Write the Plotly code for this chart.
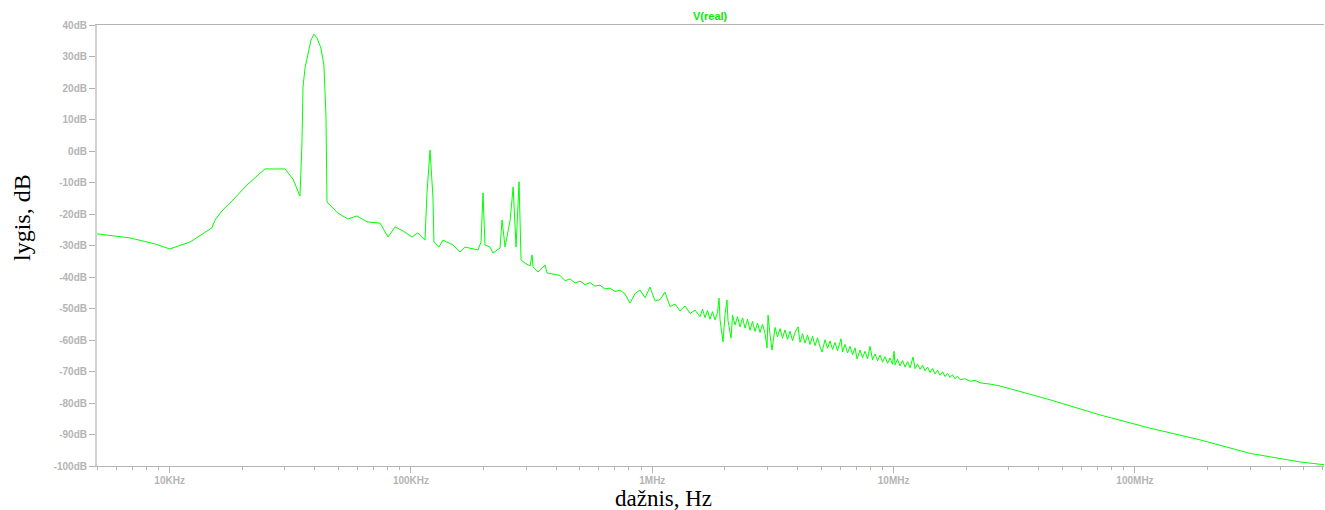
import plotly.graph_objects as go

# ---- data (frequency in Hz, level in dB) ----
freq_low = [5000, 6850, 8690, 10000, 12140, 14970, 15420, 16480, 18280, 20890,
            24830, 30050, 32430, 34670]
db_low = [-26.3, -27.6, -29.5, -31.1, -28.9, -24.4, -21.9, -19.0, -15.6, -10.8,
          -5.7, -5.7, -8.9, -14.3]

freq_peak = [35320, 35690, 36390, 37450, 38500, 39630, 40780, 42340, 43570, 44430, 44870,
             49780, 54770, 59700, 65730, 74420, 80350, 85910, 92700, 100900, 106900, 114300,
             116500, 119900, 123300, 124500, 130600, 135700, 149300, 159600, 167500, 189600,
             195100, 198800, 202600, 212400, 218600, 233800, 238400, 245400, 257600, 265000,
             272500, 280400, 285800, 297000, 311600, 317400, 320600, 336100, 359300, 366100,
             387700]
db_peak = [1.9, 20.3, 26.3, 31.4, 35.2, 37.1, 35.9, 32.7, 27.3, 11.4, -16.2,
           -19.7, -21.6, -20.6, -22.5, -22.9, -27.3, -24.1, -25.4, -27.3, -26.0, -28.3,
           -13.3, 0.3, -14.6, -28.9, -30.5, -28.3, -29.8, -32.1, -30.5, -31.4,
           -28.9, -13.3, -29.8, -30.5, -32.4, -30.8, -21.9, -30.5, -21.9, -11.4,
           -30.5, -9.8, -34.6, -35.6, -36.5, -33.0, -36.8, -38.4, -36.2, -38.7,
           -39.0]

freq_noise_a = [414500, 434800, 456000, 478300, 501600, 526100, 551800, 578800, 607100, 636800,
                667900, 700500, 734800, 770700, 808300, 847800, 889300, 932700, 978300,
                1.0261e6, 1.0762e6, 1.1288e6, 1.184e6, 1.2419e6, 1.3026e6, 1.3662e6, 1.433e6, 1.503e6]
db_noise_a = [-39.5, -41.2, -40.6, -41.9, -41.3, -42.4, -41.8, -42.9, -42.6, -43.8,
              -43.5, -44.6, -44.2, -45.4, -48.3, -45.3, -44.1, -46.6, -43.2,
              -47.6, -47.2, -44.8, -49.4, -48.6, -50.8, -49.2, -51.6, -50.5]

freq_noise_b = [1.5765e6, 1.6145e6, 1.6535e6, 1.6934e6, 1.7343e6, 1.7761e6, 1.8191e6, 1.8629e6,
                1.890e6, 1.908e6, 1.963e6, 2.001e6, 2.039e6, 2.059e6, 2.120e6, 2.1496e6,
                2.2016e6, 2.2547e6, 2.3092e6, 2.3648e6, 2.422e6, 2.4804e6, 2.5404e6, 2.6016e6,
                2.6645e6, 2.7287e6, 2.7947e6, 2.8621e6, 2.9313e6, 2.988e6, 3.017e6, 3.0745e6,
                3.134e6, 3.2248e6, 3.3025e6, 3.3824e6, 3.4639e6, 3.5477e6, 3.6332e6, 3.721e6,
                3.8107e6, 3.9028e6, 4.017e6, 4.0936e6, 4.1923e6, 4.2936e6, 4.3971e6, 4.5034e6,
                4.6119e6, 4.7235e6, 4.8373e6, 4.9543e6, 5.050e6, 5.1964e6, 5.3216e6, 5.4503e6,
                5.5817e6, 5.7166e6, 5.8545e6, 6.053e6, 6.1411e6, 6.289e6, 6.4406e6, 6.5963e6,
                6.7554e6, 6.9187e6, 7.053e6, 7.2568e6, 7.4318e6, 7.6114e6, 7.7949e6, 7.984e6,
                8.1764e6, 8.3734e6, 8.5752e6, 8.7826e6, 8.9942e6, 9.2118e6, 9.4338e6, 9.6619e6,
                9.8946e6, 10.04e6, 10.134e6, 10.378e6, 10.629e6, 10.885e6, 11.149e6, 11.417e6,
                11.693e6, 12.03e6, 12.265e6, 12.561e6, 12.864e6, 13.174e6, 13.493e6, 13.819e6,
                14.152e6, 14.494e6, 14.844e6, 15.202e6, 15.569e6, 15.944e6, 16.33e6, 16.723e6,
                17.128e6, 17.541e6, 17.965e6, 18.398e6, 18.843e6, 19.764e6, 20.729e6, 21.742e6,
                22.805e6, 25.088e6, 27.6e6]
db_noise_b = [-52.6, -50.2, -52.9, -50.6, -53.4, -51.0, -53.6, -51.2,
              -46.7, -53.5, -60.6, -51.8, -47.3, -53.8, -59.4, -52.1,
              -55.2, -52.6, -55.8, -53.0, -56.2, -53.4, -56.9, -54.1,
              -57.3, -54.6, -57.6, -55.0, -57.9, -62.5, -52.1, -58.3,
              -63.2, -56.0, -59.0, -56.4, -59.4, -56.8, -59.8, -57.2,
              -60.2, -57.6, -55.8, -60.7, -58.0, -61.0, -58.4, -61.4,
              -58.8, -61.8, -59.3, -62.2, -63.8, -59.9, -62.6, -60.3,
              -63.0, -60.8, -63.4, -59.6, -63.8, -61.4, -64.1, -62.0,
              -64.6, -62.5, -66.0, -63.2, -65.6, -63.6, -66.0, -62.0,
              -66.3, -64.4, -66.6, -64.8, -67.0, -65.3, -67.4, -65.7,
              -67.7, -63.6, -67.9, -66.1, -68.2, -66.5, -68.6, -66.9,
              -68.8, -65.4, -69.1, -67.6, -69.3, -68.0, -69.8, -68.6,
              -70.3, -69.0, -70.8, -69.6, -71.2, -70.1, -71.6, -70.6,
              -71.9, -71.0, -72.3, -71.5, -72.6, -72.3, -73.1, -72.8,
              -73.6, -74.0, -74.6]

freq_tail = [44.53e6, 71.78e6, 115.6e6, 186.2e6, 300e6, 483e6, 607e6]
db_tail = [-79.0, -83.8, -88.0, -91.7, -96.0, -98.7, -99.6]

# axis ticks
x_major = [1e4, 1e5, 1e6, 1e7, 1e8]
x_major_text = ["10KHz", "100KHz", "1MHz", "10MHz", "100MHz"]
y_ticks = [40, 30, 20, 10, 0, -10, -20, -30, -40, -50, -60, -70, -80, -90, -100]
y_tick_text = [f"{v}dB" for v in y_ticks]

assert len(freq_low) == len(db_low)
assert len(freq_peak) == len(db_peak)
assert len(freq_noise_a) == len(db_noise_a)
assert len(freq_noise_b) == len(db_noise_b), (len(freq_noise_b), len(db_noise_b))
assert len(freq_tail) == len(db_tail)

freq = freq_low + freq_peak + freq_noise_a + freq_noise_b + freq_tail
db = db_low + db_peak + db_noise_a + db_noise_b + db_tail

x_minor = []
for dec in [1e3, 1e4, 1e5, 1e6, 1e7, 1e8]:
    for m in range(2, 10):
        v = m * dec
        if 5000 <= v <= 6.07e8 and v not in x_major:
            x_minor.append(v)

GRAY = "#b4b4b4"
tick_font = dict(family="Arial, Liberation Sans, sans-serif", size=10, color=GRAY, weight="bold")

fig = go.Figure()
fig.add_trace(go.Scatter(x=freq, y=db, mode="lines",
                         line=dict(color="#00ff00", width=1), showlegend=False))

fig.update_layout(
    width=1325, height=510,
    margin=dict(l=97, r=1, t=25, b=44),
    paper_bgcolor="white", plot_bgcolor="white",
    xaxis=dict(type="log", range=[3.69897, 8.7832],
               tickvals=x_major, ticktext=x_major_text,
               ticks="outside", ticklen=6, tickcolor=GRAY, tickwidth=1,
               ticklabelstandoff=-1,
               showgrid=False, zeroline=False,
               showline=True, linecolor=GRAY, linewidth=1, mirror=True,
               tickfont=tick_font,
               minor=dict(tickvals=x_minor, ticks="outside", ticklen=3,
                          tickcolor=GRAY, tickwidth=1, showgrid=False)),
    yaxis=dict(range=[-100, 40], tickvals=y_ticks, ticktext=y_tick_text,
               ticks="outside", ticklen=6, tickcolor=GRAY, tickwidth=1,
               showgrid=False, zeroline=False,
               showline=True, linecolor="#d0d0d0", linewidth=2,
               tickfont=tick_font),
    annotations=[
        dict(text="V(real)", xref="paper", yref="paper", x=0.5, y=1, yshift=9,
             xanchor="center", yanchor="middle", showarrow=False,
             font=dict(family="Arial, Liberation Sans, sans-serif", size=11,
                       color="#00ee00", weight="bold")),
        dict(text="dažnis, Hz", xref="paper", yref="paper", x=(663 - 97) / 1227, y=0,
             yshift=-32, xanchor="center", yanchor="middle", showarrow=False,
             font=dict(family="Liberation Serif, Times New Roman, serif", size=23, color="black")),
        dict(text="lygis, dB", xref="paper", yref="paper", x=0, xshift=-75, y=(466 - 218) / 441,
             xanchor="center", yanchor="middle", textangle=-90, showarrow=False,
             font=dict(family="Liberation Serif, Times New Roman, serif", size=24, color="black")),
    ],
)

fig.write_html("out.html")
